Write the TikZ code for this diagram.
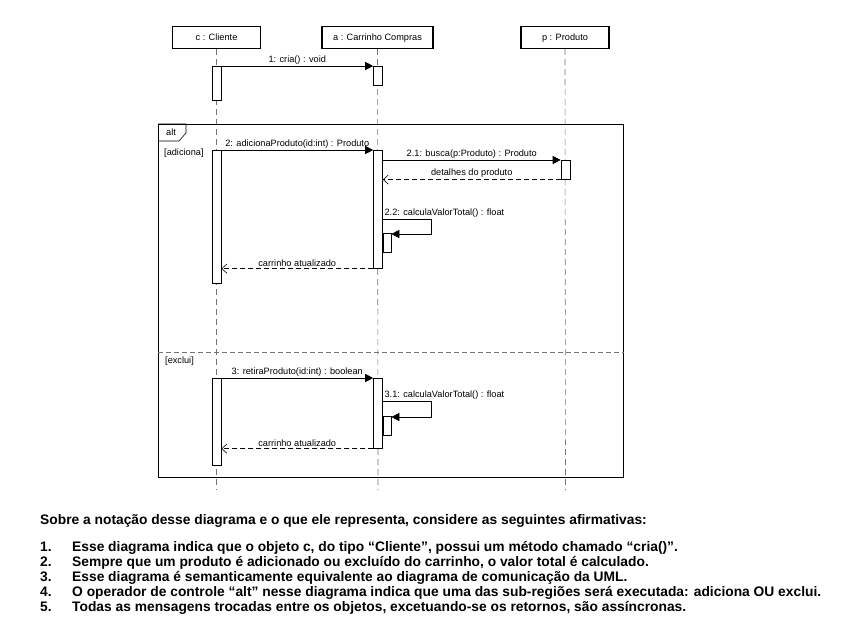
\documentclass[tikz,border=0pt]{standalone}
\usepackage{fontspec}
\setmainfont{Liberation Sans}
\usetikzlibrary{arrows.meta,positioning,calc}
\tikzset{
  obj/.style={draw, line width=1.4pt, rectangle, minimum height=22pt, font=\fontsize{9.2}{10}\selectfont, text height=7pt, text depth=2pt, inner sep=2pt},
  life/.style={draw=black!55, dash pattern=on 6pt off 4pt, line width=0.6pt},
  act/.style={draw, fill=white, rectangle, minimum width=9pt, inner sep=0pt, anchor=north, line width=0.6pt},
  msg/.style={-{Triangle[length=8pt,width=8pt]}, line width=0.6pt},
  ret/.style={-{Straight Barb[length=5pt,width=9pt]}, dash pattern=on 5pt off 3pt, line width=0.6pt},
  lbl/.style={font=\fontsize{9.2}{10}\selectfont, midway, above, inner sep=1.5pt},
  frm/.style={draw, line width=0.8pt, rectangle, inner sep=0pt},
  sep/.style={draw=black!55, dash pattern=on 5pt off 3pt, line width=0.6pt},
  grd/.style={font=\fontsize{9.2}{10}\selectfont, anchor=west, inner sep=0pt},
  txt/.style={font=\fontsize{13.8}{16}\selectfont\bfseries, anchor=base west, inner sep=0pt}
}

\begin{document}
\begin{tikzpicture}[x=1pt,y=-1pt]
\useasboundingbox (0,0) rectangle (857,624);
% objects and lifelines
\node[obj, minimum width=88pt] (cli) at (216.5,37.5) {c : Cliente};
\node[obj, minimum width=111pt] (car) at (377.5,37.5) {a : Carrinho Compras};
\node[obj, minimum width=88pt] (pro) at (565,37.5) {p : Produto};
\coordinate (cEnd) at (216.5,490);
\coordinate (aEnd) at (378,490);
\coordinate (pEnd) at (565.5,490);
\draw[life] (cli.south) -- (cEnd);
\draw[life] (car.south) -- (aEnd);
\draw[life] (pro.south) -- (pEnd);

% alt frame
\node[frm, minimum width=465pt, minimum height=353pt, anchor=north west] (alt) at (158,124) {};
\draw[line width=0.6pt] (alt.north west) -| ++(28,9) -- ++(-7,8) -- ++(-21,0);
\node[grd] (altlbl) at (166,132) {alt};
\draw[sep] (alt.west |- 0,352) -- (alt.east |- 0,352);
\node[grd] (g1) at (164,153) {[adiciona]};
\node[grd] (g2) at (165,361) {[exclui]};

% 1: cria
\node[act, minimum height=34pt] (c1) at (216.5,66) {};
\node[act, minimum height=19pt] (a1) at (378,66) {};
\draw[msg] (c1.north east) -- node[lbl]{1: cria() : void} (a1.north west);

% 2: adicionaProduto
\node[act, minimum height=133pt] (c2) at (216.5,150) {};
\node[act, minimum height=118pt] (a2) at (378,150) {};
\node[act, minimum height=19pt] (p1) at (565.5,160) {};
\node[act, minimum width=8pt, minimum height=19pt] (a2n) at (387,233) {};
\draw[msg] (c2.north east) -- node[lbl]{2: adicionaProduto(id:int) : Produto} (a2.north west);
\draw[msg] (a2.east |- p1.north) -- node[lbl]{2.1: busca(p:Produto) : Produto} (p1.north west);
\draw[ret] (p1.south west) -- node[lbl]{detalhes do produto} (a2.east |- p1.south west);
\coordinate (k1) at (431,219);
\draw[msg] (a2.east |- k1) node[above right, inner sep=1.5pt, font=\fontsize{9.2}{10}\selectfont]{2.2: calculaValorTotal() : float} -- (k1) |- ([yshift=-1pt]a2n.north east);
\draw[ret] (a2.south west) -- node[lbl]{carrinho atualizado} (c2.east |- a2.south west);

% 3: retiraProduto
\node[act, minimum height=87pt] (c3) at (216.5,378) {};
\node[act, minimum height=70pt] (a3) at (378,378) {};
\node[act, minimum width=8pt, minimum height=19pt] (a3n) at (387,416) {};
\draw[msg] (c3.north east) -- node[lbl]{3: retiraProduto(id:int) : boolean} (a3.north west);
\coordinate (k2) at (431,401);
\draw[msg] (a3.east |- k2) node[above right, inner sep=1.5pt, font=\fontsize{9.2}{10}\selectfont]{3.1: calculaValorTotal() : float} -- (k2) |- ([yshift=-1pt]a3n.north east);
\draw[ret] (a3.south west) -- node[lbl]{carrinho atualizado} (c3.east |- a3.south west);

% question text
\node[txt] (q) at (40,524) {Sobre a notação desse diagrama e o que ele representa, considere as seguintes afirmativas:};
\node[txt] (n1) at (40,551) {1.};
\node[txt] (i1) at (72,551) {Esse diagrama indica que o objeto c, do tipo “Cliente”, possui um método chamado “cria()”.};
\node[txt] (n2) at (40,566) {2.};
\node[txt] (i2) at (72,566) {Sempre que um produto é adicionado ou excluído do carrinho, o valor total é calculado.};
\node[txt] (n3) at (40,581) {3.};
\node[txt] (i3) at (72,581) {Esse diagrama é semanticamente equivalente ao diagrama de comunicação da UML.};
\node[txt] (n4) at (40,596) {4.};
\node[txt] (i4) at (72,596) {O operador de controle “alt” nesse diagrama indica que uma das sub-regiões será executada: adiciona OU exclui.};
\node[txt] (n5) at (40,611) {5.};
\node[txt] (i5) at (72,611) {Todas as mensagens trocadas entre os objetos, excetuando-se os retornos, são assíncronas.};
\end{tikzpicture}
\end{document}
